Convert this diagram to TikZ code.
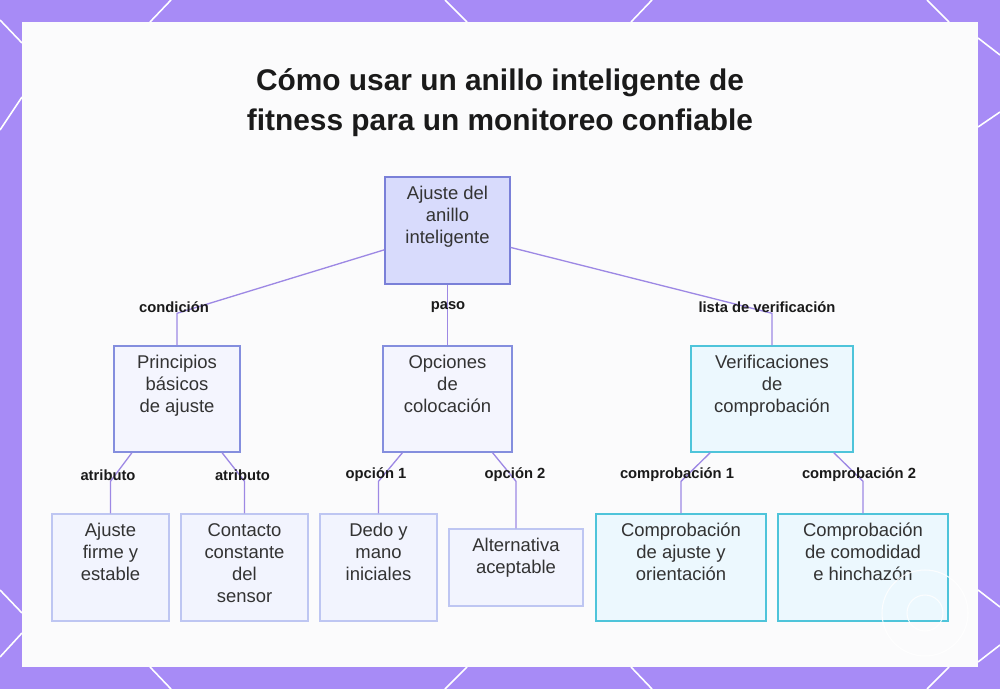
\documentclass[tikz,border=0pt]{standalone}
\usepackage{fontspec}
\setmainfont{Liberation Sans}
\usetikzlibrary{calc}
\usetikzlibrary{positioning}

\definecolor{framepurple}{RGB}{167,139,246}
\definecolor{panelbg}{RGB}{251,251,252}
\definecolor{rootfill}{RGB}{216,219,252}
\definecolor{rootdraw}{RGB}{122,128,216}
\definecolor{lavfill}{RGB}{244,245,254}
\definecolor{lavdraw}{RGB}{132,142,222}
\definecolor{leaffill}{RGB}{242,244,254}
\definecolor{leafdraw}{RGB}{190,198,242}
\definecolor{cyanfill}{RGB}{236,248,254}
\definecolor{cyandraw}{RGB}{78,196,218}
\definecolor{edgepurple}{RGB}{157,136,228}
\definecolor{textgray}{RGB}{51,51,51}
\definecolor{labelblack}{RGB}{26,26,26}

\tikzset{
  rootbox/.style={rectangle,draw=rootdraw,fill=rootfill,line width=0.8pt,inner sep=0pt},
  lavbox/.style={rectangle,draw=lavdraw,fill=lavfill,line width=0.8pt,inner sep=0pt},
  leafbox/.style={rectangle,draw=leafdraw,fill=leaffill,line width=0.8pt,inner sep=0pt},
  cyanbox/.style={rectangle,draw=cyandraw,fill=cyanfill,line width=0.8pt,inner sep=0pt},
  boxtext/.style={anchor=north,align=center,inner sep=0pt,text=textgray,font=\fontsize{10.5}{12.5}\selectfont},
  edgelabel/.style={inner sep=0pt,text=labelblack,font=\fontsize{8.4}{10}\selectfont\bfseries},
  edge/.style={draw=edgepurple,line width=0.75pt},
  titletext/.style={anchor=base,inner sep=0pt,text=labelblack,font=\fontsize{17}{22}\selectfont\bfseries}
}

\begin{document}
\begin{tikzpicture}[x=0.02cm,y=-0.02cm]
\useasboundingbox (0,0) rectangle (1000,689);
\fill[framepurple] (0,0) rectangle (1000,689);
% white strokes on the frame
\foreach \xa/\ya/\xb/\yb in {171/0/150/22, 445/0/467/22, 652/0/631/22, 927/0/949/22,
  150/667/171/689, 467/667/445/689, 631/667/652/689, 949/667/927/689,
  0/20/22/43, 0/130/22/97, 0/590/22/613, 0/657/22/633,
  978/38/1000/55, 978/127/1000/112, 978/590/1000/607, 978/662/1000/645}
  \draw[white,line width=0.9pt] (\xa,\ya) -- (\xb,\yb);
\fill[panelbg] (22,22) rectangle (978,667);

\node[titletext] (title1) at (500,91) {Cómo usar un anillo inteligente de};
\node[titletext] (title2) at (500,131) {fitness para un monitoreo confiable};

% boxes
\node[rootbox,minimum width=2.5cm,minimum height=2.14cm] (root) at (447.5,230.5) {};
\node[lavbox,minimum width=2.52cm,minimum height=2.12cm] (princ) at (177,399) {};
\node[lavbox,minimum width=2.58cm,minimum height=2.12cm] (opc) at (447.5,399) {};
\node[cyanbox,minimum width=3.24cm,minimum height=2.12cm] (verif) at (772,399) {};
\node[leafbox,minimum width=2.34cm,minimum height=2.14cm] (firme) at (110.5,567.5) {};
\node[leafbox,minimum width=2.54cm,minimum height=2.14cm] (contacto) at (244.5,567.5) {};
\node[leafbox,minimum width=2.34cm,minimum height=2.14cm] (dedo) at (378.5,567.5) {};
\node[leafbox,minimum width=2.68cm,minimum height=1.54cm] (alt) at (516,567.5) {};
\node[cyanbox,minimum width=3.4cm,minimum height=2.14cm] (comp1) at (681,567.5) {};
\node[cyanbox,minimum width=3.4cm,minimum height=2.14cm] (comp2) at (863,567.5) {};

\node[boxtext] (rootT) at ([yshift=-5.5pt]root.north) {Ajuste del\\anillo\\inteligente};
\node[boxtext] (princT) at ([yshift=-5.5pt]princ.north) {Principios\\básicos\\de ajuste};
\node[boxtext] (opcT) at ([yshift=-5.5pt]opc.north) {Opciones\\de\\colocación};
\node[boxtext] (verifT) at ([yshift=-5.5pt]verif.north) {Verificaciones\\de\\comprobación};
\node[boxtext] (firmeT) at ([yshift=-5.5pt]firme.north) {Ajuste\\firme y\\estable};
\node[boxtext] (contactoT) at ([yshift=-5.5pt]contacto.north) {Contacto\\constante\\del\\sensor};
\node[boxtext] (dedoT) at ([yshift=-5.5pt]dedo.north) {Dedo y\\mano\\iniciales};
\node[boxtext] (altT) at ([yshift=-5.5pt]alt.north) {Alternativa\\aceptable};
\node[boxtext] (comp1T) at ([yshift=-5.5pt]comp1.north) {Comprobación\\de ajuste y\\orientación};
\node[boxtext] (comp2T) at ([yshift=-5.5pt]comp2.north) {Comprobación\\de comodidad\\e hinchazón};

% connectors
\draw[edge] (root.197) -- ($(princ.north)+(0,-32)$) -- (princ.north);
\draw[edge] (root.south) -- (opc.north);
\draw[edge] (root.345) -- ($(verif.north)+(0,-32)$) -- (verif.north);
\draw[edge] (princ.230) -- ($(firme.north)+(0,-32)$) -- (firme.north);
\draw[edge] (princ.310) -- ($(contacto.north)+(0,-32)$) -- (contacto.north);
\draw[edge] (opc.230) -- ($(dedo.north)+(0,-32)$) -- (dedo.north);
\draw[edge] (opc.310) -- ($(alt.north)+(0,-47)$) -- (alt.north);
\draw[edge] (verif.221) -- ($(comp1.north)+(0,-32)$) -- (comp1.north);
\draw[edge] (verif.319) -- ($(comp2.north)+(0,-32)$) -- (comp2.north);

% labels
\node[edgelabel] (lbcond) at (174,307) {condición};
\node[edgelabel] (lbpaso) at (448,307) {paso};
\node[edgelabel] (lblista) at (767,307) {lista de verificación};
\node[edgelabel] (lbattr1) at (108,475) {atributo};
\node[edgelabel] (lbattr2) at (242.5,475) {atributo};
\node[edgelabel] (lbopc1) at (376,475) {opción 1};
\node[edgelabel] (lbopc2) at (515,475) {opción 2};
\node[edgelabel] (lbcomp1) at (677,475) {comprobación 1};
\node[edgelabel] (lbcomp2) at (859,475) {comprobación 2};

% watermark rings
\draw[white,line width=0.6pt,opacity=0.85] (925,613) circle (43);
\draw[white,line width=0.6pt,opacity=0.85] (925,613) circle (18);

\end{tikzpicture}
\end{document}
